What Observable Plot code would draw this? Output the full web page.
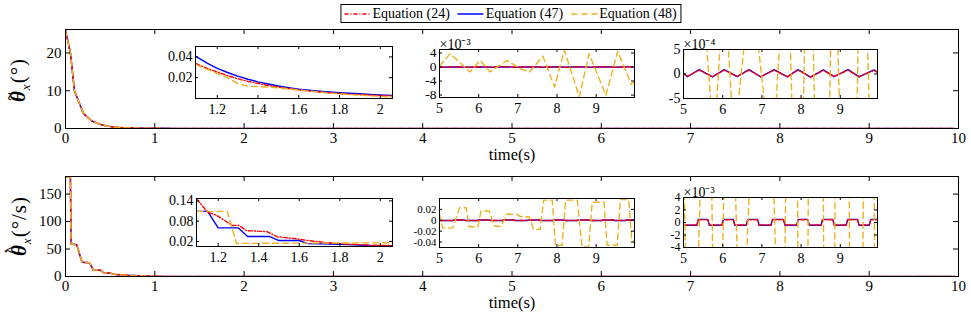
<!DOCTYPE html>
<html><head><meta charset="utf-8">
<script src="https://cdn.jsdelivr.net/npm/d3@7"></script>
<script src="https://cdn.jsdelivr.net/npm/@observablehq/plot@0.6"></script>
<style>
body{margin:0;background:#fff;}
#root{position:relative;width:971px;height:324px;font-family:"Liberation Serif","Times New Roman",Times;color:#000;overflow:hidden}
#root svg{position:absolute;overflow:visible}
#root svg text{font-family:"Liberation Serif","Times New Roman",Times !important}
#legend{position:absolute;top:4px;left:511px;transform:translateX(-50%);border:1px solid #000;height:19px;display:flex;align-items:center;padding:0 4px 0 2px;font-size:14px;white-space:nowrap;background:#fff;box-sizing:border-box}
#legend .item{display:flex;align-items:center;margin-right:7px}
#legend .item:last-child{margin-right:0}
#legend svg{position:static;margin-right:1px}
.ylab{position:absolute;transform:translate(-50%,-50%) rotate(-90deg);white-space:nowrap;font-size:21px;line-height:1;letter-spacing:1px}
.ylab sub{font-size:13px;font-style:italic}
.acc{position:relative;display:inline-block;font-weight:bold;font-style:italic}
.acc .a1{position:absolute;left:0.12em;top:-0.36em;font-size:0.7em;font-style:normal;font-weight:bold}
.acc .a2{position:absolute;left:0.16em;top:-0.44em;font-size:0.7em;font-style:normal;font-weight:bold}
</style></head><body><div id="root"></div>
<script>
// ---------------- data ----------------
const seriesNames = ["Equation (24)", "Equation (47)", "Equation (48)"];
const mainXTicks = [0,1,2,3,4,5,6,7,8,9,10];

// angle error, transient (all three equations coincide at this scale)
const thetaEarlyT = [0, 0.055, 0.1, 0.2, 0.3, 0.4, 0.5, 0.6, 0.7, 0.8, 0.9, 1.0];
const thetaEarly  = [26, 20, 10, 4, 1.9, 1.0, 0.5, 0.28, 0.16, 0.1, 0.07, 0.05];
// angle error, 1.1–2.06 s
const theta1T      = [1.095, 1.15, 1.2, 1.25, 1.3, 1.35, 1.4, 1.45, 1.5, 1.55, 1.6, 1.65, 1.7, 1.75, 1.8, 1.85, 1.9, 1.95, 2.0, 2.06];
const theta1Red    = [0.0335, 0.029, 0.0255, 0.022, 0.019, 0.0165, 0.0145, 0.0125, 0.011, 0.0095, 0.0082, 0.0072, 0.0063, 0.0055, 0.0048, 0.0042, 0.0037, 0.0032, 0.0028, 0.0024];
const theta1Blue   = [0.0405, 0.034, 0.029, 0.025, 0.0215, 0.0185, 0.016, 0.014, 0.012, 0.0105, 0.009, 0.008, 0.007, 0.0062, 0.0056, 0.005, 0.0045, 0.004, 0.0035, 0.003];
const theta1Orange = [0.0325, 0.028, 0.024, 0.02, 0.0145, 0.0118, 0.0115, 0.011, 0.0102, 0.0092, 0.0082, 0.0072, 0.0062, 0.0053, 0.0045, 0.0038, 0.0032, 0.0026, 0.0021, 0.0014];
// angle error, 5–10 s, Eq.(24)/(47) in units of 1e-4
const thetaSST     = [5.0, 5.1, 5.4, 5.74, 6.04, 6.37, 6.67, 6.97, 7.31, 7.65, 7.92, 8.24, 8.57, 8.84, 9.2, 9.48, 9.86, 9.95];
const thetaSSRed   = [0.1, -0.5, 0.8, -0.55, 0.8, -0.5, 0.8, -0.55, 0.8, -0.55, 0.8, -0.6, 0.75, -0.5, 0.8, -0.55, 0.75, 0.3];
const thetaSSBlue  = [0.1, -0.55, 0.9, -0.6, 0.9, -0.55, 0.9, -0.6, 0.9, -0.6, 0.9, -0.65, 0.85, -0.55, 0.9, -0.6, 0.85, 0.35];
// angle error, 5–10 s, Eq.(48) in units of 1e-3
const thetaOrT = [5.0, 5.27, 5.78, 6.04, 6.29, 6.72, 7.06, 7.3, 7.64, 7.94, 8.19, 8.57, 8.82, 9.25, 9.55, 9.9, 9.98];
const thetaOr  = [0.3, 3.8, -1.4, 1.9, -1.4, 1.9, -0.5, -1.4, 3.1, -5.7, 4.8, -8.5, 3.8, -8.1, 4.5, -5.0, -4.0];

// rate, transient
const velEarlyT = [0, 0.055, 0.062, 0.125, 0.185, 0.27, 0.31, 0.39, 0.43, 0.5, 0.56, 0.69, 0.88, 1.0];
const velEarly  = [181, 181, 59, 58, 26, 25, 12, 11.5, 6.7, 6, 3.6, 2.2, 1.0, 0.5];
// rate, 1.1–2.06 s
const vel1RedT    = [1.095, 1.148, 1.19, 1.27, 1.30, 1.34, 1.44, 1.49, 1.57, 1.64, 1.74, 1.84, 1.95, 2.06];
const vel1Red     = [0.145, 0.106, 0.098, 0.067, 0.068, 0.052, 0.049, 0.034, 0.029, 0.023, 0.016, 0.012, 0.009, 0.0075];
const vel1BlueT   = [1.095, 1.148, 1.2, 1.30, 1.345, 1.455, 1.497, 1.60, 1.64, 1.75, 1.84, 1.95, 2.06];
const vel1Blue    = [0.109, 0.109, 0.060, 0.060, 0.0345, 0.0345, 0.0228, 0.0228, 0.0135, 0.0125, 0.0105, 0.008, 0.007];
const vel1OrangeT = [1.095, 1.245, 1.29, 1.6, 2.06];
const vel1Orange  = [0.109, 0.109, 0.014, 0.015, 0.016];
// rate, 5–10 s, Eq.(24)/(47) in units of 1e-3
const velSST = [5.0, 5.34, 5.38, 5.62, 5.66, 5.98, 6.02, 6.27, 6.31, 6.60, 6.64, 6.89, 6.93, 7.23, 7.27, 7.55, 7.59, 7.89, 7.93, 8.17, 8.21, 8.51, 8.55, 8.81, 8.85, 9.15, 9.19, 9.44, 9.48, 9.74, 9.78, 9.95];
const velSSRed  = [-0.4,-0.4,0.45,0.45,-0.4,-0.4,0.45,0.45,-0.4,-0.4,0.45,0.45,-0.4,-0.4,0.45,0.45,-0.4,-0.4,0.45,0.45,-0.4,-0.4,0.45,0.45,-0.4,-0.4,0.45,0.45,-0.4,-0.4,0.45,0.45];
const velSSBlue = [-0.45,-0.45,0.5,0.5,-0.45,-0.45,0.5,0.5,-0.45,-0.45,0.5,0.5,-0.45,-0.45,0.5,0.5,-0.45,-0.45,0.5,0.5,-0.45,-0.45,0.5,0.5,-0.45,-0.45,0.5,0.5,-0.45,-0.45,0.5,0.5];
// rate, 5–10 s, Eq.(48)
const velOrT = [5.0, 5.08, 5.34, 5.51, 5.68, 5.76, 5.98, 6.06, 6.27, 6.40, 6.57, 6.72, 6.97, 7.06, 7.30, 7.40, 7.57, 7.66, 7.88, 7.96, 8.13, 8.22, 8.52, 8.64, 8.81, 8.90, 9.20, 9.28, 9.54, 9.62, 9.83, 9.91, 9.98];
const velOr  = [0.011, -0.014, -0.014, 0.023, 0.023, -0.012, -0.012, 0.017, 0.017, -0.011, -0.011, 0.011, 0.011, 0.007, 0.006, -0.0167, -0.0167, 0.037, 0.037, -0.046, -0.046, 0.037, 0.037, -0.049, -0.049, 0.033, 0.033, -0.046, -0.046, 0.038, 0.038, -0.035, -0.04];

// ---------------- helpers ----------------
const FONT = "'Liberation Serif','Times New Roman',Times";
const STY = {
  red:    {stroke: "#ff0000", strokeDasharray: "4,2,1,2"},
  blue:   {stroke: "#0000ff"},
  orange: {stroke: "#edb120", strokeDasharray: "6,4"}
};
const rows = (ts, vs, k = 1) => ts.map((t, i) => ({t, v: vs[i] * k}));
const lineMarks = (s, sw) => ["blue", "red", "orange"].map(key =>
  Plot.line(s[key], {x: "t", y: "v", ...STY[key], strokeWidth: sw, clip: true}));
const fmt = d => String(d);
const root = document.getElementById("root");

function place(svg, left, top) {
  svg.setAttribute("font-family", FONT);
  svg.style.left = left + "px";
  svg.style.top = top + "px";
  root.appendChild(svg);
}

function mainPanel({top, height, mt, mb, yDomain, yTicks, series}) {
  const ml = 65, mr = 13, W = 971;
  const fh = height - mt - mb, fw = W - ml - mr;
  const svg = Plot.plot({
    width: W, height, marginLeft: ml, marginRight: mr, marginTop: mt, marginBottom: mb,
    style: `font-family:${FONT};font-size:15px;background:transparent;overflow:visible`,
    x: {domain: [0, 10], label: null},
    y: {domain: yDomain, label: null},
    marks: [
      ...lineMarks(series, 1.5),
      Plot.frame({stroke: "#000", strokeWidth: 1}),
      Plot.ruleX(mainXTicks, {x: d => d, insetTop: fh - 5}),
      Plot.ruleX(mainXTicks, {x: d => d, insetBottom: fh - 5}),
      Plot.ruleY(yTicks, {y: d => d, insetRight: fw - 5}),
      Plot.ruleY(yTicks, {y: d => d, insetLeft: fw - 5}),
      Plot.axisX(mainXTicks, {tickSize: 0, tickPadding: 4, tickFormat: fmt, fontSize: 15, label: null}),
      Plot.axisY(yTicks, {tickSize: 0, tickPadding: 4, tickFormat: fmt, fontSize: 15, label: null}),
      Plot.text(["time(s)"], {frameAnchor: "bottom", dy: 31, fontSize: 16.5})
    ]
  });
  place(svg, 0, top);
}

function inset({left, top, w, h, xDomain, yDomain, xTicks, yTicks, series, exp, yFont = 14}) {
  const ml = 50, mt = 20, mr = 6, mb = 24;
  const marks = [
    Plot.frame({fill: "#fff", stroke: null}),
    ...lineMarks(series, 1.4),
    Plot.frame({stroke: "#000", strokeWidth: 1}),
    Plot.ruleX(xTicks, {x: d => d, insetTop: h - 3}),
    Plot.ruleX(xTicks, {x: d => d, insetBottom: h - 3}),
    Plot.ruleY(yTicks, {y: d => d, insetRight: w - 3}),
    Plot.ruleY(yTicks, {y: d => d, insetLeft: w - 3}),
    Plot.axisX(xTicks, {tickSize: 0, tickPadding: 6, tickFormat: fmt, fontSize: 14, label: null}),
    Plot.axisY(yTicks, {tickSize: 0, tickPadding: 3, tickFormat: fmt, fontSize: yFont, label: null})
  ];
  if (exp) marks.push(Plot.text([exp], {frameAnchor: "top-left", textAnchor: "start", lineAnchor: "bottom", dy: -1, fontSize: 14}));
  const svg = Plot.plot({
    width: ml + w + mr, height: mt + h + mb,
    marginLeft: ml, marginRight: mr, marginTop: mt, marginBottom: mb,
    style: `font-family:${FONT};font-size:14px;background:transparent;overflow:visible`,
    x: {domain: xDomain, label: null},
    y: {domain: yDomain, label: null},
    marks
  });
  place(svg, left - ml, top - mt);
}

// ---------------- main panels ----------------
mainPanel({
  top: 0, height: 170, mt: 29, mb: 42, yDomain: [0, 26.2], yTicks: [0, 10, 20],
  series: {
    red:    [...rows(thetaEarlyT, thetaEarly), ...rows(theta1T, theta1Red), ...rows(thetaSST, thetaSSRed, 1e-4)],
    blue:   [...rows(thetaEarlyT, thetaEarly), ...rows(theta1T, theta1Blue), ...rows(thetaSST, thetaSSBlue, 1e-4)],
    orange: [...rows(thetaEarlyT, thetaEarly), ...rows(theta1T, theta1Orange), ...rows(thetaOrT, thetaOr, 1e-3)]
  }
});
mainPanel({
  top: 170, height: 154, mt: 6, mb: 48, yDomain: [0, 182], yTicks: [0, 50, 100, 150],
  series: {
    red:    [...rows(velEarlyT, velEarly), ...rows(vel1RedT, vel1Red), ...rows(velSST, velSSRed, 1e-3)],
    blue:   [...rows(velEarlyT, velEarly), ...rows(vel1BlueT, vel1Blue), ...rows(velSST, velSSBlue, 1e-3)],
    orange: [...rows(velEarlyT, velEarly), ...rows(vel1OrangeT, vel1Orange), ...rows(velOrT, velOr)]
  }
});

// ---------------- insets ----------------
const tailTicks = [5, 6, 7, 8, 9];
const headTicks = [1.2, 1.4, 1.6, 1.8, 2];
inset({left: 195, top: 46, w: 197, h: 52, xDomain: [1.093, 2.06], yDomain: [0, 0.05], xTicks: headTicks, yTicks: [0.02, 0.04],
  series: {red: rows(theta1T, theta1Red), blue: rows(theta1T, theta1Blue), orange: rows(theta1T, theta1Orange)}});
inset({left: 439, top: 49, w: 195, h: 48, xDomain: [5, 9.98], yDomain: [-8.7, 5], xTicks: tailTicks, yTicks: [-8, -4, 0, 4], yFont: 13.5, exp: "×10⁻³",
  series: {red: rows(thetaSST, thetaSSRed, 0.1), blue: rows(thetaSST, thetaSSBlue, 0.1), orange: rows(thetaOrT, thetaOr)}});
inset({left: 683, top: 49, w: 194, h: 49, xDomain: [5, 9.95], yDomain: [-5, 5], xTicks: tailTicks, yTicks: [-5, 0, 5], exp: "×10⁻⁴",
  series: {red: rows(thetaSST, thetaSSRed), blue: rows(thetaSST, thetaSSBlue), orange: rows(thetaOrT, thetaOr, 10)}});
inset({left: 196, top: 198, w: 196, h: 48, xDomain: [1.093, 2.06], yDomain: [0.005, 0.147], xTicks: headTicks, yTicks: [0.02, 0.08, 0.14],
  series: {red: rows(vel1RedT, vel1Red), blue: rows(vel1BlueT, vel1Blue), orange: rows(vel1OrangeT, vel1Orange)}});
inset({left: 439, top: 198, w: 195, h: 49, xDomain: [5, 9.98], yDomain: [-0.05, 0.04], xTicks: tailTicks, yTicks: [-0.04, -0.02, 0, 0.02], yFont: 11,
  series: {red: rows(velSST, velSSRed, 1e-3), blue: rows(velSST, velSSBlue, 1e-3), orange: rows(velOrT, velOr)}});
inset({left: 683, top: 197, w: 194, h: 50, xDomain: [5, 9.95], yDomain: [-4, 4], xTicks: tailTicks, yTicks: [-4, -2, 0, 2, 4], yFont: 12,
  exp: "×10⁻³",
  series: {red: rows(velSST, velSSRed), blue: rows(velSST, velSSBlue), orange: rows(velOrT, velOr, 1000)}});

// ---------------- y labels ----------------
const yl1 = document.createElement("div");
yl1.className = "ylab";
yl1.style.left = "20px"; yl1.style.top = "80px";
yl1.innerHTML = '<span class="acc"><span class="a1">~</span>θ</span><sub>x</sub>(°)';
root.appendChild(yl1);
const yl2 = document.createElement("div");
yl2.className = "ylab";
yl2.style.left = "21px"; yl2.style.top = "226px";
yl2.innerHTML = '<span class="acc"><span class="a2">˙</span><span class="a1">^</span>θ</span><sub>x</sub>(°/s)';
root.appendChild(yl2);

// ---------------- legend ----------------
const lg = document.createElement("div");
lg.id = "legend";
const legendKeys = ["red", "blue", "orange"];
legendKeys.forEach((key, i) => {
  const it = document.createElement("div");
  it.className = "item";
  const s = STY[key];
  it.innerHTML = `<svg width="28" height="10"><line x1="1" x2="27" y1="5" y2="5" stroke="${s.stroke}" stroke-width="1.5" ${s.strokeDasharray ? `stroke-dasharray="${s.strokeDasharray}"` : ""}/></svg><span>${seriesNames[i]}</span>`;
  lg.appendChild(it);
});
root.appendChild(lg);
</script></body></html>
